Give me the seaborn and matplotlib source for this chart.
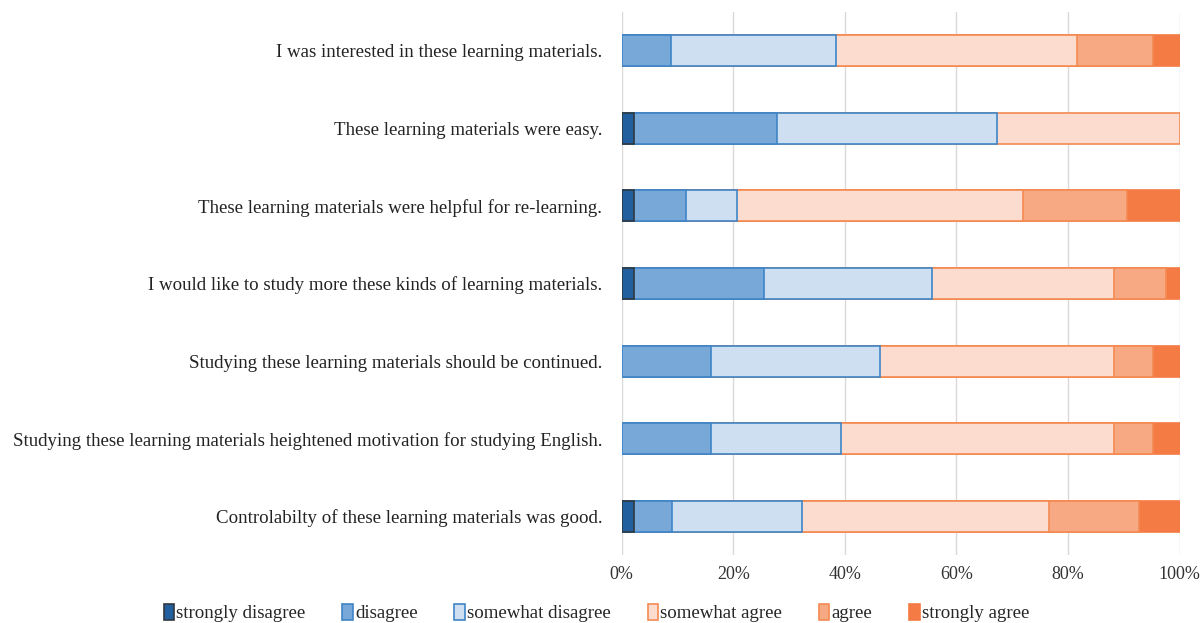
import numpy as np
import pandas as pd
import matplotlib
matplotlib.use("Agg")
import matplotlib.pyplot as plt
from matplotlib.patches import Patch
import seaborn as sns

questions = [
    "I was interested in these learning materials.",
    "These learning materials were easy.",
    "These learning materials were helpful for re-learning.",
    "I would like to study more these kinds of learning materials.",
    "Studying these learning materials should be continued.",
    "Studying these learning materials heightened motivation for studying English.",
    "Controlabilty of these learning materials was good.",
]
series_names = ["strongly disagree", "disagree", "somewhat disagree",
                "somewhat agree", "agree", "strongly agree"]
strongly_disagree = [0.0, 2.2, 2.2, 2.2, 0.0, 0.0, 2.2]
disagree = [8.9, 25.6, 9.3, 23.3, 16.1, 16.1, 6.9]
somewhat_disagree = [29.6, 39.5, 9.2, 30.2, 30.2, 23.3, 23.3]
somewhat_agree = [43.2, 32.7, 51.3, 32.6, 42.0, 48.9, 44.2]
agree = [13.6, 0.0, 18.6, 9.2, 7.0, 7.0, 16.2]
strongly_agree = [4.7, 0.0, 9.4, 2.5, 4.7, 4.7, 7.2]
x_ticks = [0, 20, 40, 60, 80, 100]
x_tick_labels = ["0%", "20%", "40%", "60%", "80%", "100%"]

fills = ["#215f9f", "#78a8d8", "#cddff0", "#fcdccf", "#f7a984", "#f47c44"]
edges = ["#303840", "#3f85c6", "#3f85c6", "#f48a52", "#f48a52", "#f47c44"]

sns.set_theme(style="white")
plt.rcParams['font.family'] = ['Liberation Serif', 'DejaVu Serif']

values = np.array([strongly_disagree, disagree, somewhat_disagree,
                   somewhat_agree, agree, strongly_agree])
cum = np.cumsum(values, axis=0)

fig = plt.figure(figsize=(12, 6.23), dpi=100)
ax = fig.add_axes([0.518, 0.109, 0.465, 0.872])

for k in range(len(series_names) - 1, -1, -1):
    df = pd.DataFrame({"question": questions, "value": cum[k]})
    df = df[values[k] > 0]
    sns.barplot(data=df, x="value", y="question", order=questions,
                orient="h", color=fills[k], edgecolor=edges[k],
                linewidth=1.2, width=0.4, ax=ax, saturation=1)

ax.set_xlim(0, 100)
ax.set_ylim(6.5, -0.5)
ax.set_xticks(x_ticks)
ax.set_xticklabels(x_tick_labels, fontsize=13, color="#333333")
ax.tick_params(axis="y", labelsize=13.6, colors="#222222", length=0, pad=14)
ax.tick_params(axis="x", length=0, pad=8)
ax.set_xlabel("")
ax.set_ylabel("")
ax.grid(axis="x", color="#d9d9d9", linewidth=1)
ax.set_axisbelow(True)
for s in ax.spines.values():
    s.set_visible(False)

handles = [Patch(facecolor=fills[i], edgecolor=edges[i], linewidth=1.2,
                 label=series_names[i]) for i in range(len(series_names))]
fig.legend(handles=handles, loc="center", bbox_to_anchor=(0.497, 0.016),
           ncol=6, frameon=False, fontsize=13.6, handlelength=0.55,
           handleheight=1.0, handletextpad=0.12, columnspacing=1.95)

fig.savefig("out.png", dpi=100)
